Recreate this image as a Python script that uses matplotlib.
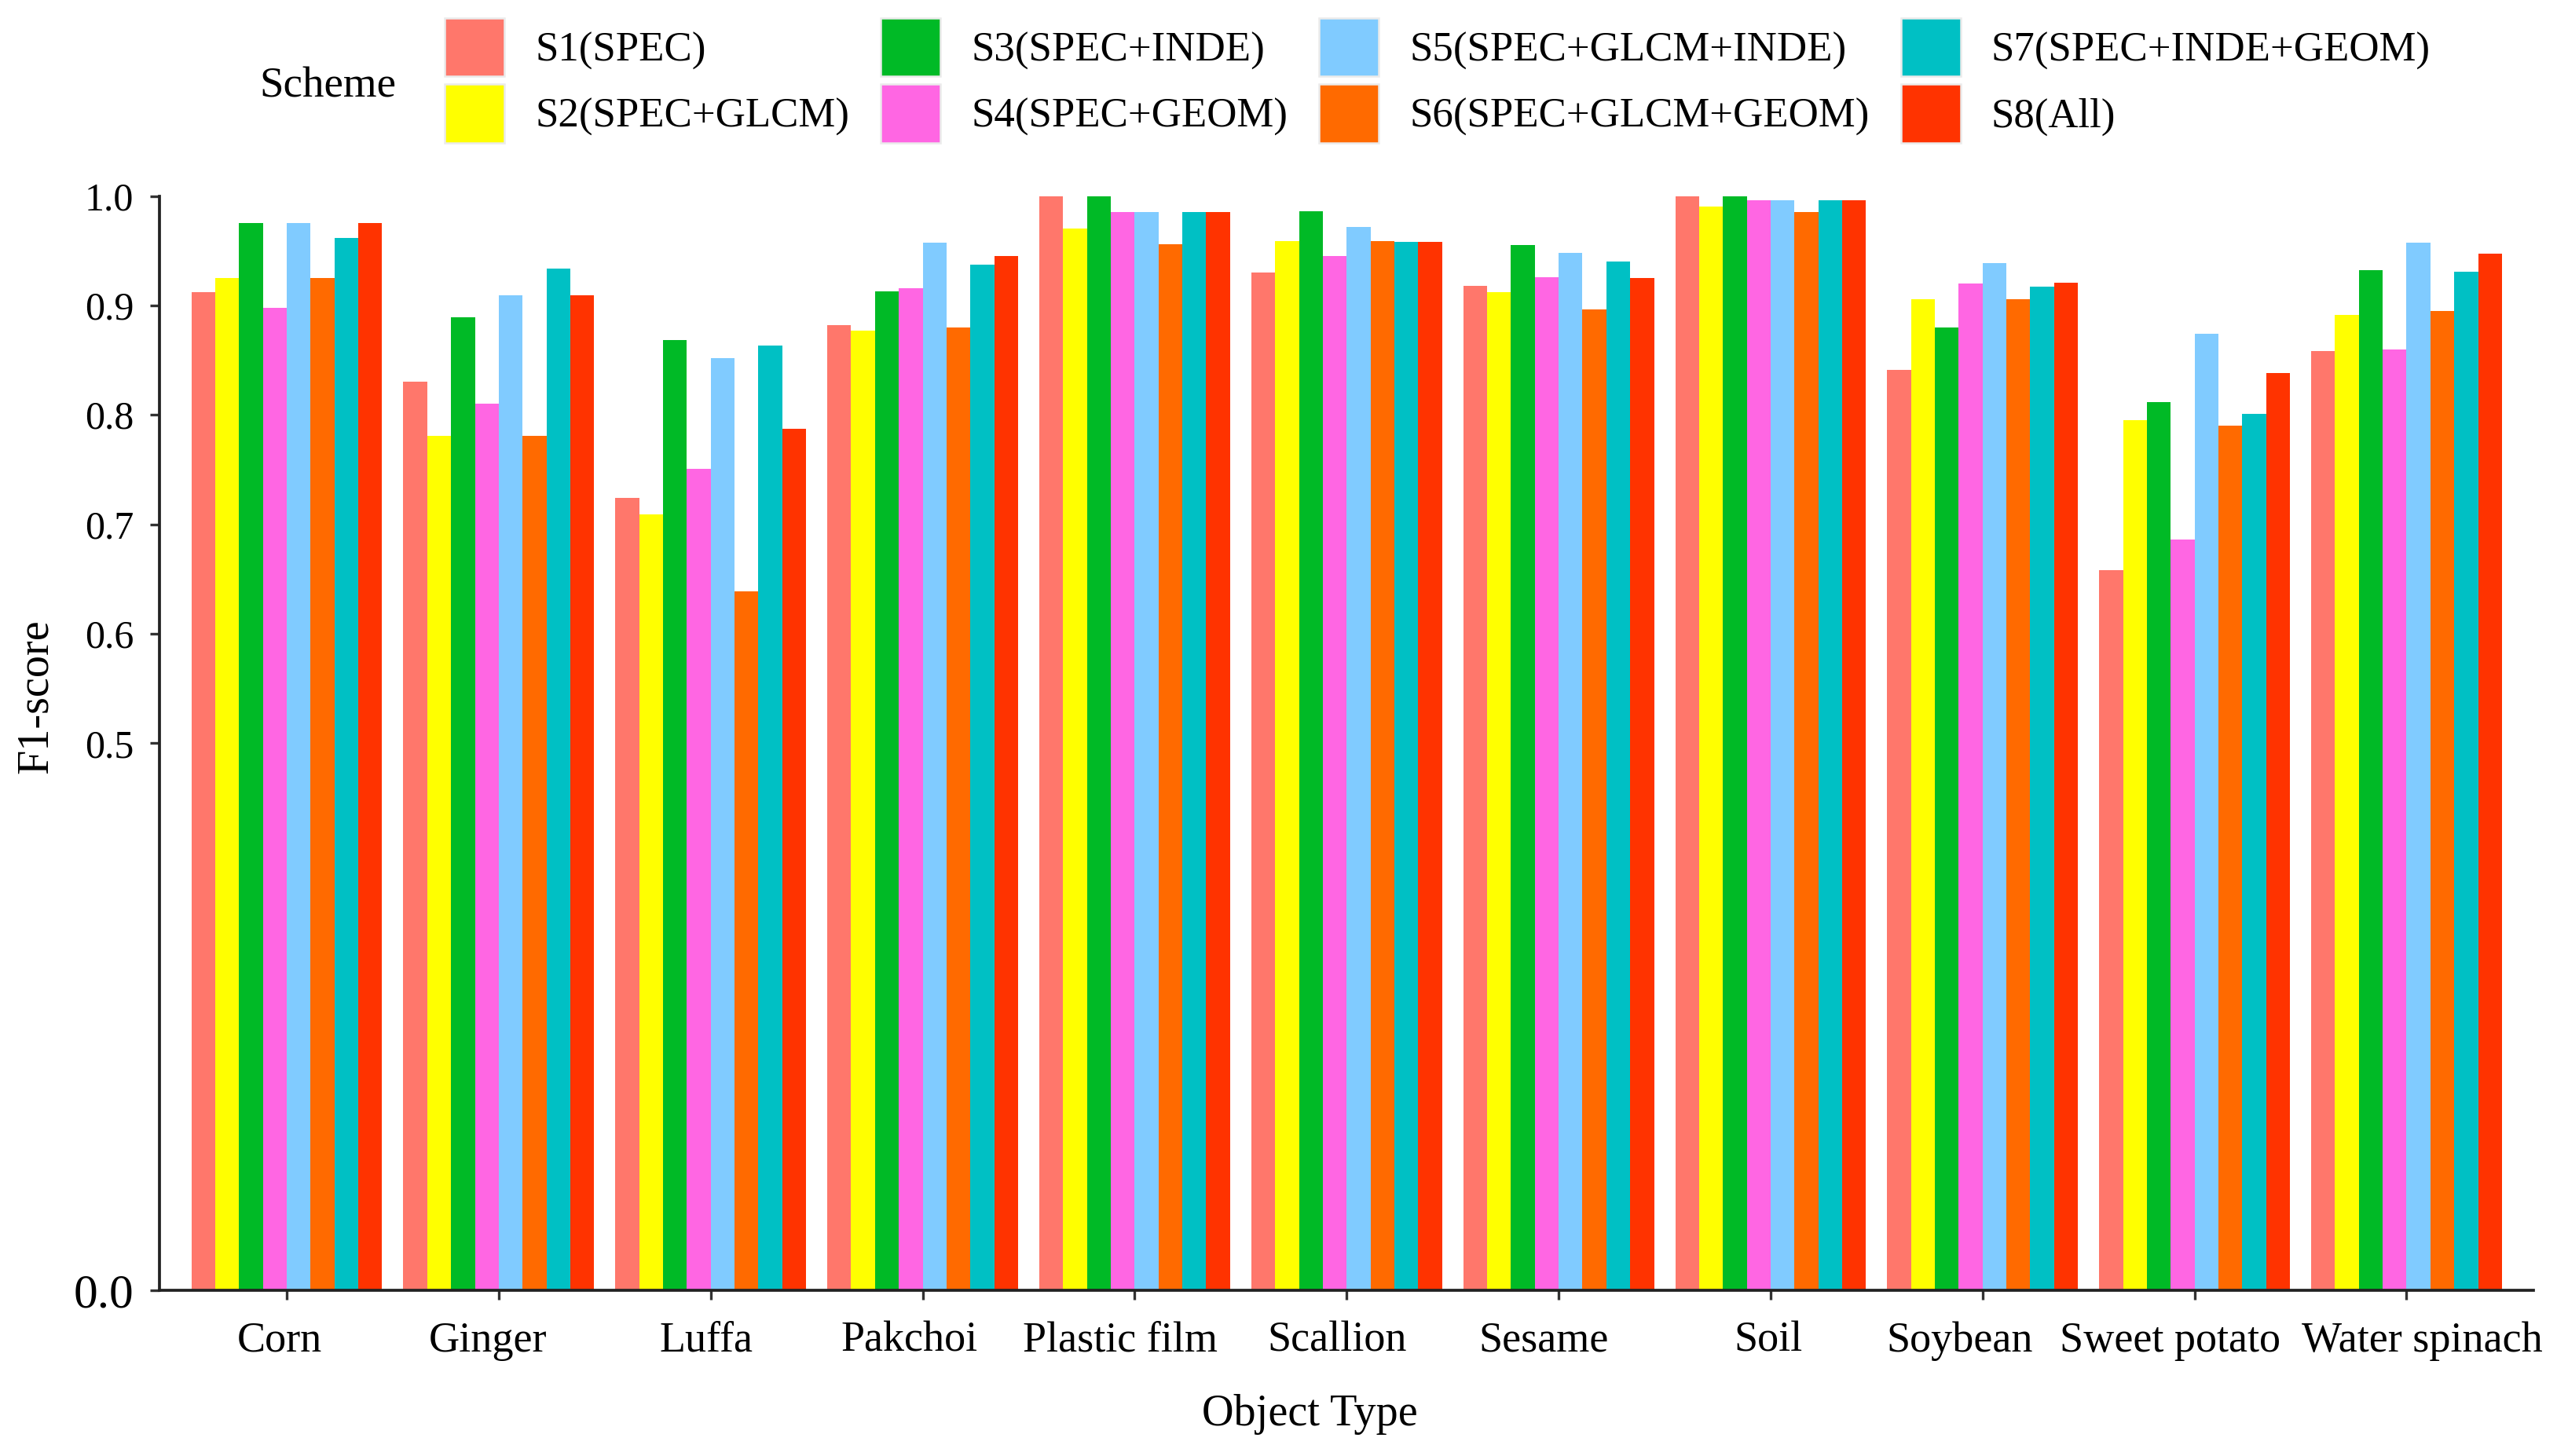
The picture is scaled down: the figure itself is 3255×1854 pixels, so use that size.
import numpy as np
import matplotlib
matplotlib.use("Agg")
import matplotlib.pyplot as plt
from matplotlib.patches import Patch
from matplotlib.transforms import ScaledTranslation

# Datos (F1-score por esquema y tipo de objeto)
categories = ["Corn", "Ginger", "Luffa", "Pakchoi", "Plastic film", "Scallion",
              "Sesame", "Soil", "Soybean", "Sweet potato", "Water spinach"]

scheme_names = ["S1(SPEC)", "S2(SPEC+GLCM)", "S3(SPEC+INDE)", "S4(SPEC+GEOM)",
                "S5(SPEC+GLCM+INDE)", "S6(SPEC+GLCM+GEOM)", "S7(SPEC+INDE+GEOM)", "S8(All)"]

s1 = [0.912, 0.830, 0.724, 0.882, 1.000, 0.930, 0.918, 1.000, 0.841, 0.658, 0.858]
s2 = [0.925, 0.781, 0.709, 0.877, 0.970, 0.959, 0.912, 0.990, 0.906, 0.795, 0.891]
s3 = [0.975, 0.889, 0.868, 0.913, 1.000, 0.986, 0.955, 1.000, 0.880, 0.812, 0.932]
s4 = [0.898, 0.810, 0.751, 0.916, 0.985, 0.945, 0.926, 0.996, 0.920, 0.686, 0.860]
s5 = [0.975, 0.909, 0.852, 0.957, 0.985, 0.972, 0.948, 0.996, 0.939, 0.874, 0.957]
s6 = [0.925, 0.781, 0.639, 0.880, 0.956, 0.959, 0.896, 0.985, 0.906, 0.790, 0.895]
s7 = [0.962, 0.934, 0.863, 0.937, 0.985, 0.958, 0.940, 0.996, 0.917, 0.801, 0.931]
s8 = [0.975, 0.909, 0.787, 0.945, 0.985, 0.958, 0.925, 0.996, 0.921, 0.838, 0.947]

y_ticks = [0.0, 0.5, 0.6, 0.7, 0.8, 0.9, 1.0]
y_ticklabels = ["0.0", "0.5", "0.6", "0.7", "0.8", "0.9", "1.0"]

colors = ["#FF776B", "#FFFF00", "#00BA26", "#FF66E3", "#80CBFF", "#FF6A00", "#00C0C4", "#FF3300"]

# corrimiento horizontal (px) de cada etiqueta del eje x, como en el original
label_shift_px = [-9, -14, -6, -17, -18, -12, -19, -3, -29, -31, 20]

plt.rcParams["font.family"] = ["Liberation Serif", "DejaVu Serif"]

series = [s1, s2, s3, s4, s5, s6, s7, s8]

fig = plt.figure(figsize=(10.85, 6.18), dpi=300)
ax = fig.add_axes([0.0624, 0.1138, 0.9285, 0.7516])

x = np.arange(1, len(categories) + 1)
n = len(series)
group_w = 0.9
bar_w = group_w / n

for i, vals in enumerate(series):
    offs = -group_w / 2 + bar_w * (i + 0.5)
    ax.bar(x + offs, vals, width=bar_w, color=colors[i], linewidth=0)

ax.set_xlim(0.4, len(categories) + 0.6)
ax.set_ylim(0, 1.0)

# ejes estilo ggplot classic
for side in ["top", "right"]:
    ax.spines[side].set_visible(False)
for side in ["left", "bottom"]:
    ax.spines[side].set_linewidth(0.9)
    ax.spines[side].set_color("#222222")

ax.set_xticks(x)
ax.set_xticklabels(categories, fontsize=13)
ax.set_yticks(y_ticks)
ax.set_yticklabels(y_ticklabels, fontsize=12)
ax.get_yticklabels()[0].set_fontsize(14.7)
ax.tick_params(axis="both", length=2.9, width=0.8, color="#333333")
ax.tick_params(axis="x", pad=6.5)
ax.tick_params(axis="y", pad=5)

for lab, dx in zip(ax.get_xticklabels(), label_shift_px):
    lab.set_transform(lab.get_transform() + ScaledTranslation(dx / 300, 0, fig.dpi_scale_trans))

ax.set_xlabel("Object Type", fontsize=13.5, va="top")
ax.xaxis.set_label_coords(0.4844, -0.095)
ax.set_ylabel("F1-score", fontsize=13.5)
ax.yaxis.set_label_coords(-0.0433, 0.543)

# leyenda arriba en 4 columnas
handles = [Patch(facecolor=c, edgecolor="#EBEBEB", linewidth=0.6) for c in colors]
fig.legend(handles, scheme_names, loc="upper left", bbox_to_anchor=(0.1739, 0.9875),
           ncol=4, frameon=False, fontsize=12.7, handlelength=1.44, handleheight=1.78,
           handletextpad=0.74, columnspacing=0.75, labelspacing=0.19,
           borderpad=0, borderaxespad=0)
fig.text(0.1014, 0.9407, "Scheme", fontsize=13.2, ha="left", va="center")

fig.savefig("out.png", dpi=300)
